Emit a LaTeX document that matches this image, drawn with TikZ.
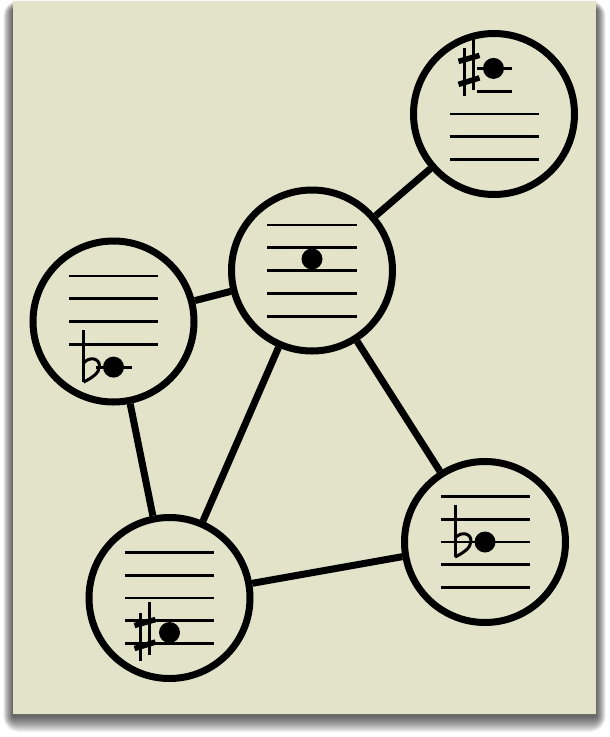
\documentclass[tikz,border=0pt]{standalone}
\definecolor{pagecol}{RGB}{227,227,202}
\tikzset{
  staffcircle/.style={circle,draw=black,line width=7pt,minimum size=161pt,inner sep=0pt,fill=pagecol},
  link/.style={line width=7pt,draw=black},
  staffline/.style={line width=2.8pt,draw=black},
  accline/.style={line width=3pt,draw=black},
  accbar/.style={line width=5.5pt,draw=black},
  sharpsign/.pic={
    \draw[accline] (-29.5,-20) -- (-29.5,28);
    \draw[accline] (-20,-31) -- (-20,22);
    \draw[accbar] (-35,-7) -- (-14,-13);
    \draw[accbar] (-35,16) -- (-14,9.5);
  },
  flatsign/.pic={
    \draw[accline] (-30,-37) -- (-30,15);
    \draw[accline] (-30,-4) .. controls (-24,-11) and (-14,-9) .. (-14,-1) .. controls (-14,6) and (-22,11) .. (-30,15);
  }
}
\begin{document}
\begin{tikzpicture}[x=1pt,y=-1pt]
\useasboundingbox (0,0) rectangle (610,737);
\fill[white] (0,0) rectangle (610,737);
% drop shadow
\foreach \r in {1,...,16}{
  \fill[black,opacity=0.05,rounded corners=\r pt] (13-0.6*\r,10-0.6*\r) rectangle (596+0.6*\r,716+\r);
}
% page
\fill[pagecol] (13,1) rectangle (596,714);

% circles
\node[staffcircle] (tr) at (494,114) {};
\node[staffcircle] (mid) at (312,270.5) {};
\node[staffcircle] (lft) at (113.5,321.5) {};
\node[staffcircle] (bl) at (169.5,598) {};
\node[staffcircle] (br) at (485,542) {};

% connectors
\draw[link] (mid) -- (tr);
\draw[link] (lft) -- (mid);
\draw[link] (lft) -- (bl);
\draw[link] (mid) -- (bl);
\draw[link] (mid) -- (br);
\draw[link] (bl) -- (br);

% top right staff
\foreach \k in {0,1,2} \draw[staffline] (449.5,114+\k*22.8) -- (538.5,114+\k*22.8);
\draw[staffline] (476.5,91.2) -- (512,91.2);
\draw[staffline] (476.5,68.4) -- (511.5,68.4);
\fill (493.5,68.4) circle (10.5);
\pic at (493.5,68.4) {sharpsign};

% middle staff
\foreach \k in {-2,...,2} \draw[staffline] (267,270.5+\k*22.8) -- (357,270.5+\k*22.8);
\fill (312,259) circle (10.5);

% left staff
\foreach \k in {-2,...,1} \draw[staffline] (69,321.5+\k*22.8) -- (158,321.5+\k*22.8);
\draw[staffline] (95.5,367.1) -- (131.5,367.1);
\fill (113.5,367.1) circle (10.5);
\pic at (113.5,367.1) {flatsign};

% bottom left staff
\foreach \k in {-2,...,2} \draw[staffline] (125,598+\k*22.8) -- (214,598+\k*22.8);
\fill (169.5,632.5) circle (10.5);
\pic at (169.5,632.5) {sharpsign};

% bottom right staff
\foreach \k in {-2,...,2} \draw[staffline] (440.5,542+\k*22.8) -- (529.5,542+\k*22.8);
\fill (485,542) circle (10.5);
\pic at (485,542) {flatsign};
\end{tikzpicture}
\end{document}
